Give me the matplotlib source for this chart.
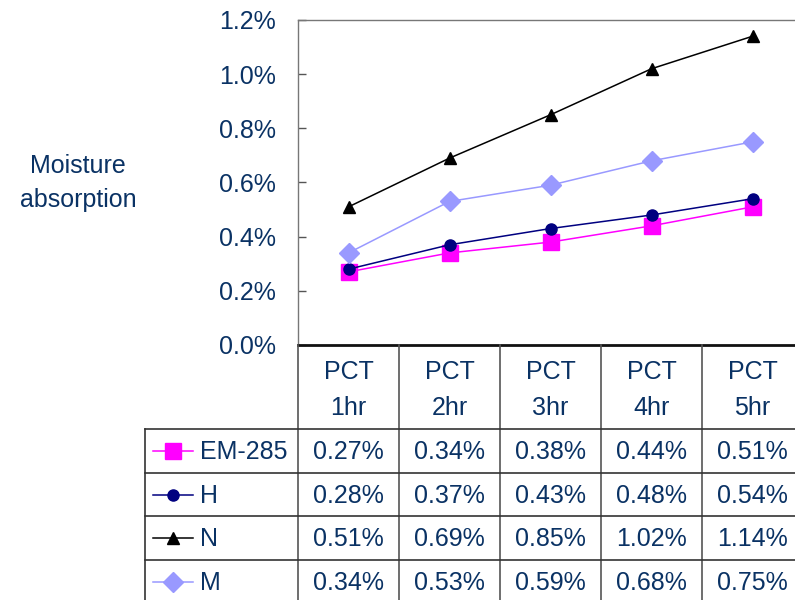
import matplotlib
matplotlib.use("Agg")
import matplotlib.pyplot as plt
from matplotlib.lines import Line2D

plt.rcParams['font.family'] = ['Liberation Sans', 'DejaVu Sans']

categories = ["PCT\n1hr", "PCT\n2hr", "PCT\n3hr", "PCT\n4hr", "PCT\n5hr"]
series_names = ["EM-285", "H", "N", "M"]
em285 = [0.27, 0.34, 0.38, 0.44, 0.51]
h_vals = [0.28, 0.37, 0.43, 0.48, 0.54]
n_vals = [0.51, 0.69, 0.85, 1.02, 1.14]
m_vals = [0.34, 0.53, 0.59, 0.68, 0.75]
y_ticks = [0.0, 0.2, 0.4, 0.6, 0.8, 1.0, 1.2]

series = [em285, h_vals, n_vals, m_vals]
styles = [
    dict(color="#FF00FF", marker="s", markersize=11, mfc="#FF00FF", mec="#FF00FF"),
    dict(color="#000080", marker="o", markersize=8, mfc="#000080", mec="#000080"),
    dict(color="#000000", marker="^", markersize=9, mfc="#000000", mec="#000000"),
    dict(color="#9999FF", marker="D", markersize=10, mfc="#9999FF", mec="#9999FF"),
]
text_color = "#0a3264"
fs = 18

W, H = 795, 600
fig = plt.figure(figsize=(W / 100, H / 100), dpi=100)

# plot area in pixel coordinates
px_left, px_top, px_bottom = 298, 20, 345
col_w = 101
px_right = px_left + col_w * len(categories)
ax = fig.add_axes([px_left / W, 1 - px_bottom / H,
                   (px_right - px_left) / W, (px_bottom - px_top) / H])

xs = [i + 0.5 for i in range(len(categories))]
for vals, st in zip(series, styles):
    ax.plot(xs, vals, lw=1.1, clip_on=False, zorder=3, **st)

ax.set_xlim(0, len(categories))
ax.set_ylim(0, 1.2)
ax.set_yticks(y_ticks)
ax.set_yticklabels([f"{t:.1f}%" for t in y_ticks], color=text_color, fontsize=fs)
ax.tick_params(axis='y', direction='in', length=6, width=1, color="#555555", pad=16)
ax.set_xticks([])
for side in ["left", "top", "right"]:
    ax.spines[side].set_color("#777777")
    ax.spines[side].set_linewidth(1)
ax.spines["bottom"].set_color("#111111")
ax.spines["bottom"].set_linewidth(2)

fig.text(78 / W, 1 - 183 / H, "Moisture\nabsorption", ha="center", va="center",
         fontsize=fs, color=text_color, linespacing=1.55)

# data table beneath the plot, drawn on a full-figure overlay in pixel units
tab = fig.add_axes([0, 0, 1, 1])
tab.set_xlim(0, W)
tab.set_ylim(H, 0)
tab.axis("off")

header_bottom = 429
row_h = 43.7
leg_left = 145
grid_c = "#333333"

for i in range(len(categories) + 1):
    x = px_left + col_w * i
    tab.add_line(Line2D([x, x], [px_bottom, H], color="#555555", lw=1.2))
tab.add_line(Line2D([leg_left, leg_left], [header_bottom, H], color=grid_c, lw=1.2))
for r in range(len(series_names)):
    y = header_bottom + row_h * r
    tab.add_line(Line2D([leg_left, W], [y, y], color=grid_c, lw=1.2))

for i, cat in enumerate(categories):
    cx = px_left + col_w * (i + 0.5)
    tab.text(cx, (px_bottom + header_bottom) / 2 + 3, cat, ha="center", va="center",
             fontsize=fs, color=text_color, linespacing=1.6)

for r, (name, vals, st) in enumerate(zip(series_names, series, styles)):
    cy = header_bottom + row_h * (r + 0.5)
    tab.add_line(Line2D([153, 173, 193], [cy, cy, cy], lw=1.1, markevery=[1], **st))
    tab.text(200, cy + 1, name, ha="left", va="center", fontsize=fs, color=text_color)
    for i, v in enumerate(vals):
        cx = px_left + col_w * (i + 0.5)
        tab.text(cx, cy + 1, f"{v:.2f}%", ha="center", va="center",
                 fontsize=fs, color=text_color)

fig.savefig("out.png", dpi=100)
